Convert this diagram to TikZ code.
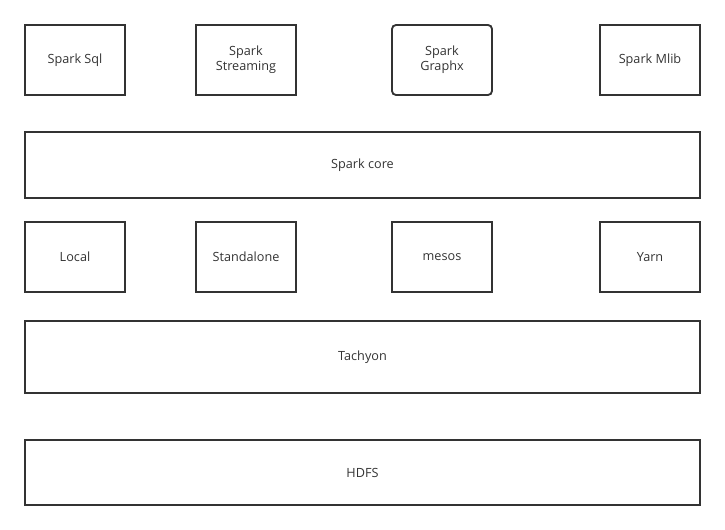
\documentclass[tikz,border=0pt]{standalone}
\usepackage{fontspec}
\setmainfont{Open Sans}
\definecolor{boxline}{HTML}{333333}
\usetikzlibrary{positioning}

\begin{document}
\begin{tikzpicture}[x=0.75pt,y=-0.75pt,
  layer/.style={draw=boxline,line width=1.4pt,text=boxline,font=\fontsize{9.5}{11}\selectfont,
    align=center,inner sep=0pt,minimum width=75pt,minimum height=52.5pt},
  wide/.style={layer,minimum width=506pt}]
  \useasboundingbox (0,0) rectangle (725,530);

  % Libraries on top
  \node[layer] (sql) at (75,60) {Spark Sql};
  \node[layer] (streaming) at (246,60) {Spark\\Streaming};
  \node[layer,rounded corners=3pt] (graphx) at (442,60) {Spark\\Graphx};
  \node[layer] (mlib) at (650,60) {Spark Mlib};

  % Core
  \node[wide,minimum height=49.5pt] (core) at (362.5,165) {Spark core};

  % Cluster managers
  \node[layer] (local) at (75,257) {Local};
  \node[layer] (standalone) at (246,257) {Standalone};
  \node[layer] (mesos) at (442,257) {mesos};
  \node[layer] (yarn) at (650,257) {Yarn};

  % Storage
  \node[wide,minimum height=54pt] (tachyon) at (362.5,357) {Tachyon};
  \node[wide,minimum height=49pt] (hdfs) at (362.5,472.5) {HDFS};
\end{tikzpicture}
\end{document}
